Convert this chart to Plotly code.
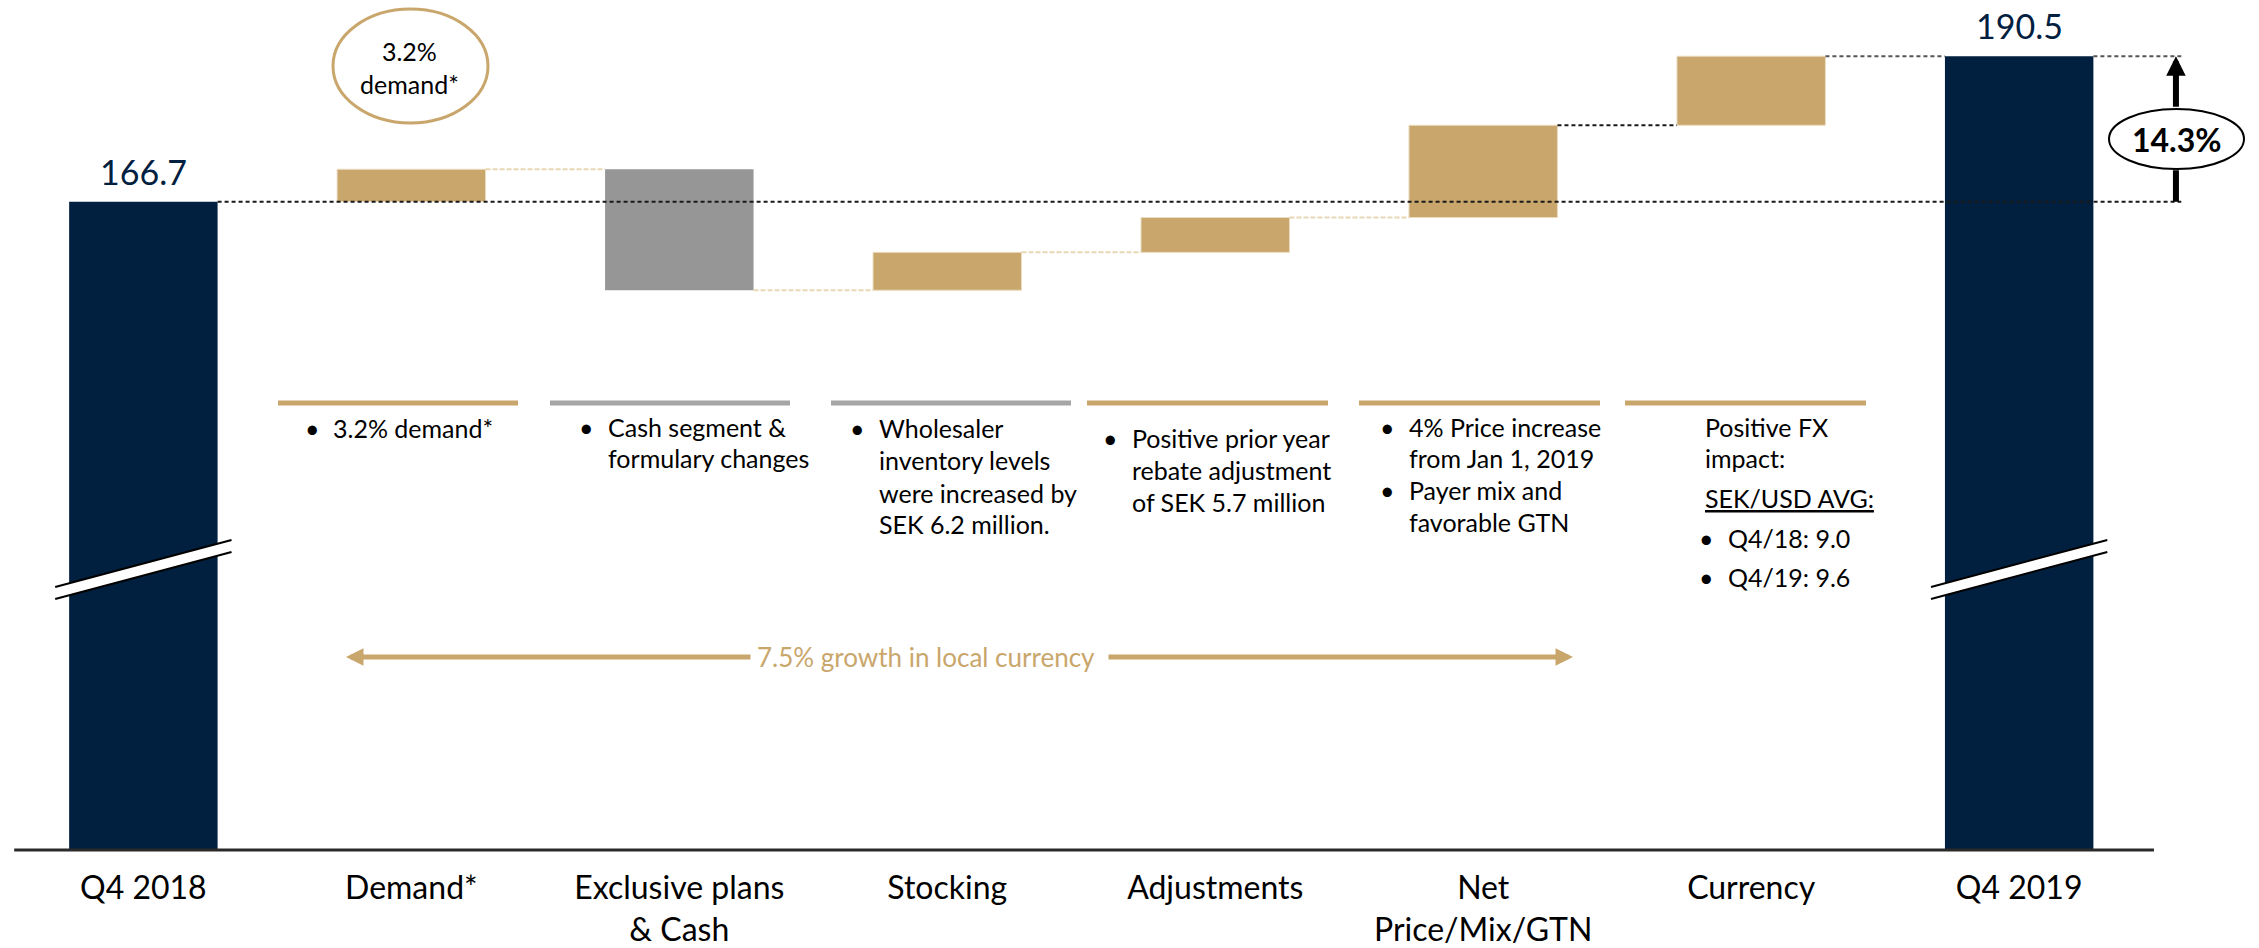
import plotly.graph_objects as go

# ---- data -------------------------------------------------------------
categories = [
    "Q4 2018", "Demand*", "Exclusive plans<br>& Cash", "Stocking",
    "Adjustments", "Net<br>Price/Mix/GTN", "Currency", "Q4 2019",
]
measures = ["absolute", "relative", "relative", "relative",
            "relative", "relative", "relative", "total"]
values = [166.7, 5.3, -19.8, 6.2, 5.7, 15.1, 11.3, 0]

growth_total = "14.3%"
growth_local = "7.5% growth in local currency"
demand_badge = "3.2%<br>demand*"

# commentary under each step: (bullet, text) per line
notes = [
    [("•", "3.2% demand*")],
    [("•", "Cash segment &"), ("", "formulary changes")],
    [("•", "Wholesaler"), ("", "inventory levels"), ("", "were increased by"),
     ("", "SEK 6.2 million.")],
    [("•", "Positive prior year"), ("", "rebate adjustment"), ("", "of SEK 5.7 million")],
    [("•", "4% Price increase"), ("", "from Jan 1, 2019"), ("•", "Payer mix and"),
     ("", "favorable GTN")],
    [("", "Positive FX"), ("", "impact:"), ("", "<u>SEK/USD AVG:</u>"),
     ("•", "Q4/18: 9.0"), ("•", "Q4/19: 9.6")],
]

# ---- running levels ---------------------------------------------------
levels = []
run = 0.0
for m, v in zip(measures, values):
    if m == "absolute":
        run = v
    elif m == "relative":
        run += v
    levels.append(round(run, 1))

# ---- styling ----------------------------------------------------------
NAVY = "#01203F"
GOLD = "#C9A66B"
GREY = "#969696"
SEP_GREY = "#A6A6A6"
LIGHT = "#E8D7B4"
DARK = "#1a1a1a"
FONT = "Lato, Carlito, Calibri, sans-serif"

W, H = 2259, 948
PLOT_H = 850
XR = [-0.535, 7.895]
YR = [60.6, 199.7]
BW = 0.554


def px(x):
    return x / W


def py(y):
    return 1 - y / PLOT_H


fig = go.Figure()
fig.add_trace(go.Waterfall(
    x=categories, y=values, measure=measures, width=BW,
    increasing=dict(marker=dict(color=GOLD, line=dict(color="#EADCC0", width=1))),
    decreasing=dict(marker=dict(color=GREY, line=dict(width=0))),
    totals=dict(marker=dict(color=NAVY, line=dict(width=0))),
    connector=dict(visible=False),
    textinfo="none", hoverinfo="skip",
))

shapes = []
annotations = []
n = len(categories)
arrow_x = 7.585

# connectors between consecutive steps
conn_style = [None, LIGHT, LIGHT, LIGHT, LIGHT, DARK, "#555555"]
for i in range(1, n - 1):
    c = conn_style[i]
    dash = "4px,3px" if c != LIGHT else "5px,2px"
    shapes.append(dict(type="line", xref="x", yref="y",
                       x0=i + BW / 2, x1=i + 1 - BW / 2, y0=levels[i], y1=levels[i],
                       line=dict(color=c, width=2, dash=dash)))
# reference lines for start and end levels
shapes.append(dict(type="line", xref="x", yref="y", x0=BW / 2, x1=arrow_x + 0.02,
                   y0=levels[0], y1=levels[0],
                   line=dict(color=DARK, width=2, dash="4px,3px")))
shapes.append(dict(type="line", xref="x", yref="y", x0=n - 1 + BW / 2, x1=arrow_x + 0.02,
                   y0=levels[-1], y1=levels[-1],
                   line=dict(color="#555555", width=2, dash="4px,3px")))

# baseline
shapes.append(dict(type="line", xref="x", yref="paper", x0=-0.482, x1=7.503, y0=0, y1=0,
                   line=dict(color="#2a2a2a", width=3)))

# axis break marks on the two total bars
for i in (0, n - 1):
    xa, xb = i - BW / 2 - 0.052, i + BW / 2 + 0.052
    ya0, yb0 = py(587), py(540)
    ya1, yb1 = py(599), py(552)
    shapes.append(dict(type="path", xref="x", yref="paper",
                       path=f"M{xa},{ya0} L{xb},{yb0} L{xb},{yb1} L{xa},{ya1} Z",
                       fillcolor="white", line=dict(width=0)))
    for ya, yb in ((ya0, yb0), (ya1, yb1)):
        shapes.append(dict(type="line", xref="x", yref="paper", x0=xa, x1=xb, y0=ya, y1=yb,
                           line=dict(color="black", width=2)))

# value labels on the totals
for i in (0, n - 1):
    annotations.append(dict(x=i, y=levels[i], xref="x", yref="y", text=f"{levels[i]:.1f}",
                            showarrow=False, xanchor="center", yanchor="bottom", yshift=8,
                            font=dict(family=FONT, size=34, color=NAVY)))

# 3.2% demand badge
shapes.append(dict(type="circle", xref="paper", yref="paper",
                   x0=px(333), x1=px(488), y0=py(123), y1=py(9),
                   line=dict(color=GOLD, width=3), fillcolor="white"))
annotations.append(dict(x=px(410), y=py(67), xref="paper", yref="paper", text=demand_badge,
                        showarrow=False, xanchor="center", yanchor="middle",
                        font=dict(family=FONT, size=25, color="black")))

# 14.3% growth arrow
annotations.append(dict(x=arrow_x, y=levels[0], xref="x", yref="y", text="",
                        showarrow=True, arrowhead=0, arrowwidth=6, arrowcolor="black",
                        ax=0, ay=-33))
annotations.append(dict(x=arrow_x, y=levels[-1], xref="x", yref="y", text="",
                        showarrow=True, arrowhead=2, arrowsize=0.65, arrowwidth=6,
                        arrowcolor="black", ax=0, ay=52))
shapes.append(dict(type="circle", xref="paper", yref="paper",
                   x0=px(2109), x1=px(2244), y0=py(169), y1=py(109),
                   line=dict(color="black", width=2), fillcolor="white"))
annotations.append(dict(x=px(2177), y=py(139), xref="paper", yref="paper",
                        text=f"<b>{growth_total}</b>", showarrow=False,
                        xanchor="center", yanchor="middle",
                        font=dict(family=FONT, size=32, color="black")))

# separators above commentary
seps = [(278, 518, GOLD), (550, 790, SEP_GREY), (831, 1071, SEP_GREY),
        (1087, 1328, GOLD), (1359, 1600, GOLD), (1625, 1866, GOLD)]
for x0, x1, c in seps:
    shapes.append(dict(type="line", xref="paper", yref="paper", x0=px(x0), x1=px(x1),
                       y0=py(403), y1=py(403), line=dict(color=c, width=5)))

# commentary text
note_pos = [
    (312, 331, [428]),
    (586, 606, [427, 458]),
    (857, 877, [428, 460, 493, 524]),
    (1110, 1130, [438, 470, 502]),
    (1387, 1407, [427, 458, 490, 522]),
    (1706, 1703, [427, 458, 498, 538, 577]),
]
for block, (bx, tx, ys) in zip(notes, note_pos):
    for (b, t), yy in zip(block, ys):
        x_text = tx
        if b:
            annotations.append(dict(x=px(bx), y=py(yy), xref="paper", yref="paper", text=b,
                                    showarrow=False, xanchor="center", yanchor="middle",
                                    font=dict(family=FONT, size=25, color="black")))
            if bx > 1700:
                x_text = 1726
        annotations.append(dict(x=px(x_text), y=py(yy), xref="paper", yref="paper", text=t,
                                showarrow=False, xanchor="left", yanchor="middle",
                                font=dict(family=FONT, size=25, color="black")))

# local currency growth arrow
annotations.append(dict(x=px(926), y=py(657), xref="paper", yref="paper", text=growth_local,
                        showarrow=False, xanchor="center", yanchor="middle",
                        font=dict(family=FONT, size=26, color=GOLD)))
annotations.append(dict(x=px(346), y=py(657), xref="paper", yref="paper", text="",
                        showarrow=True, arrowhead=2, arrowsize=0.7, arrowwidth=5,
                        arrowcolor=GOLD, ax=752 - 346, ay=0))
annotations.append(dict(x=px(1573), y=py(657), xref="paper", yref="paper", text="",
                        showarrow=True, arrowhead=2, arrowsize=0.7, arrowwidth=5,
                        arrowcolor=GOLD, ax=1107 - 1573, ay=0))

fig.update_layout(
    width=W, height=H,
    margin=dict(l=0, r=0, t=0, b=H - PLOT_H),
    paper_bgcolor="white", plot_bgcolor="white",
    showlegend=False,
    font=dict(family=FONT),
    xaxis=dict(type="category", range=XR, showgrid=False, zeroline=False, showline=False,
               ticks="", ticklabelstandoff=16,
               tickfont=dict(family=FONT, size=32, color="black"),
               fixedrange=True),
    yaxis=dict(range=YR, visible=False, fixedrange=True),
    shapes=shapes,
    annotations=annotations,
)

fig.write_html("out.html")
